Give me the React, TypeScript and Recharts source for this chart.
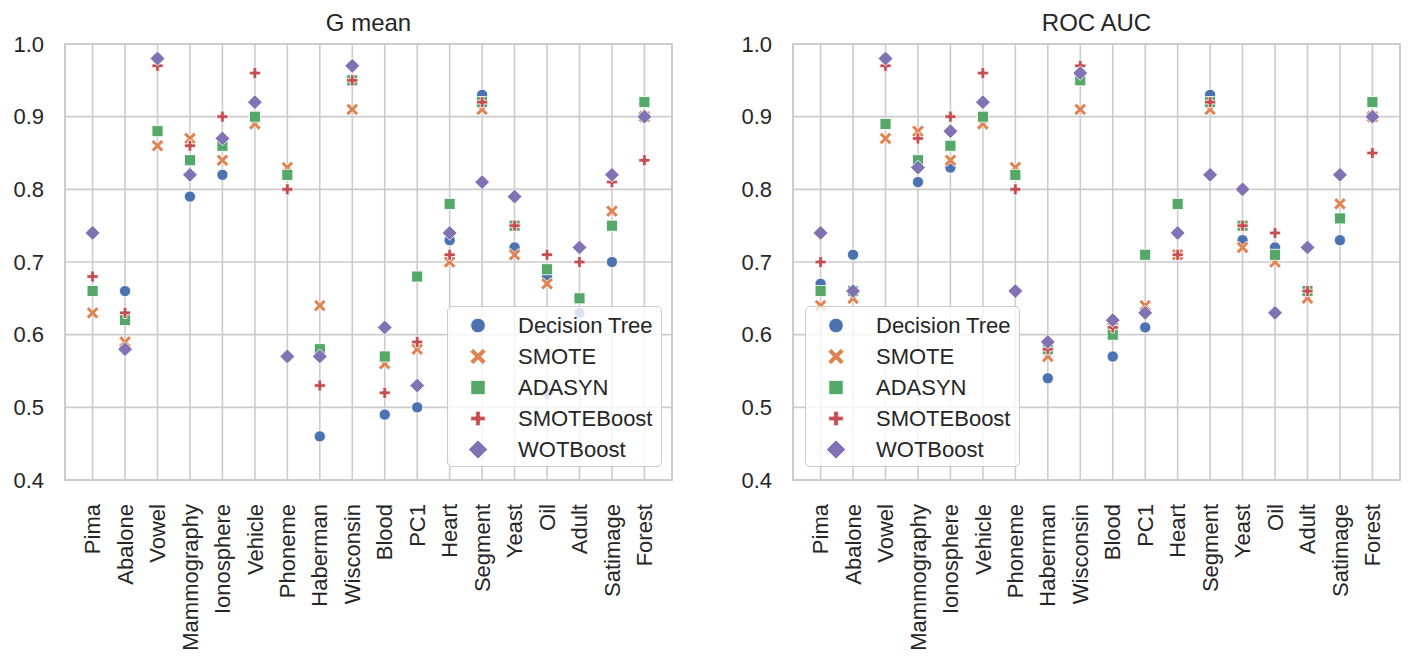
import React from 'react';
import {
  ScatterChart,
  Scatter,
  XAxis,
  YAxis,
  CartesianGrid,
  ReferenceArea,
  Legend,
} from 'recharts';

const datasets = [
  'Pima', 'Abalone', 'Vowel', 'Mammography', 'Ionosphere', 'Vehicle', 'Phoneme', 'Haberman', 'Wisconsin',
  'Blood', 'PC1', 'Heart', 'Segment', 'Yeast', 'Oil', 'Adult', 'Satimage', 'Forest',
];
const yTicks = [0.4, 0.5, 0.6, 0.7, 0.8, 0.9, 1.0];

// G mean
const gDecisionTree = [0.66, 0.66, 0.98, 0.79, 0.82, 0.9, 0.57, 0.46, 0.97, 0.49, 0.5, 0.73, 0.93, 0.72, 0.68, 0.63, 0.7, 0.9];
const gSmote = [0.63, 0.59, 0.86, 0.87, 0.84, 0.89, 0.83, 0.64, 0.91, 0.56, 0.58, 0.7, 0.91, 0.71, 0.67, 0.65, 0.77, 0.9];
const gAdasyn = [0.66, 0.62, 0.88, 0.84, 0.86, 0.9, 0.82, 0.58, 0.95, 0.57, 0.68, 0.78, 0.92, 0.75, 0.69, 0.65, 0.75, 0.92];
const gSmoteBoost = [0.68, 0.63, 0.97, 0.86, 0.9, 0.96, 0.8, 0.53, 0.95, 0.52, 0.59, 0.71, 0.92, 0.75, 0.71, 0.7, 0.81, 0.84];
const gWotBoost = [0.74, 0.58, 0.98, 0.82, 0.87, 0.92, 0.57, 0.57, 0.97, 0.61, 0.53, 0.74, 0.81, 0.79, 0.52, 0.72, 0.82, 0.9];

// ROC AUC
const rDecisionTree = [0.67, 0.71, 0.98, 0.81, 0.83, 0.9, 0.82, 0.54, 0.96, 0.57, 0.61, 0.74, 0.93, 0.73, 0.72, 0.66, 0.73, 0.9];
const rSmote = [0.64, 0.65, 0.87, 0.88, 0.84, 0.89, 0.83, 0.57, 0.91, 0.61, 0.64, 0.71, 0.91, 0.72, 0.7, 0.65, 0.78, 0.9];
const rAdasyn = [0.66, 0.66, 0.89, 0.84, 0.86, 0.9, 0.82, 0.58, 0.95, 0.6, 0.71, 0.78, 0.92, 0.75, 0.71, 0.66, 0.76, 0.92];
const rSmoteBoost = [0.7, 0.66, 0.97, 0.87, 0.9, 0.96, 0.8, 0.58, 0.97, 0.61, 0.63, 0.71, 0.92, 0.75, 0.74, 0.66, 0.82, 0.85];
const rWotBoost = [0.74, 0.66, 0.98, 0.83, 0.88, 0.92, 0.66, 0.59, 0.96, 0.62, 0.63, 0.74, 0.82, 0.8, 0.63, 0.72, 0.82, 0.9];

const FONT = '"Liberation Sans", Arial, sans-serif';
const TEXT = '#262626';
const GRID = '#cccccc';

type MarkerKind = 'circle' | 'x' | 'square' | 'plus' | 'diamond';

const methods: { name: string; color: string; marker: MarkerKind }[] = [
  { name: 'Decision Tree', color: '#4C72B0', marker: 'circle' },
  { name: 'SMOTE', color: '#DD8452', marker: 'x' },
  { name: 'ADASYN', color: '#55A868', marker: 'square' },
  { name: 'SMOTEBoost', color: '#C44E52', marker: 'plus' },
  { name: 'WOTBoost', color: '#8172B3', marker: 'diamond' },
];

const crossPoints = (a: number, t: number) =>
  [
    [-t, -a], [t, -a], [t, -t], [a, -t], [a, t], [t, t],
    [t, a], [-t, a], [-t, t], [-a, t], [-a, -t], [-t, -t],
  ];

function Marker({ kind, cx, cy, color, scale = 1 }: { kind: MarkerKind; cx: number; cy: number; color: string; scale?: number }) {
  const common = { fill: color, stroke: '#ffffff', strokeWidth: 0.8 };
  if (kind === 'circle') return <circle cx={cx} cy={cy} r={5.6 * scale} {...common} />;
  if (kind === 'square') {
    const h = 5.5 * scale;
    return <rect x={cx - h} y={cy - h} width={2 * h} height={2 * h} {...common} />;
  }
  if (kind === 'diamond') {
    const h = 7.4 * scale;
    return <polygon points={`${cx},${cy - h} ${cx + h},${cy} ${cx},${cy + h} ${cx - h},${cy}`} {...common} />;
  }
  if (kind === 'plus') {
    const pts = crossPoints(5.6 * scale, 1.8 * scale).map(([x, y]) => `${cx + x},${cy + y}`).join(' ');
    return <polygon points={pts} {...common} />;
  }
  const c = Math.SQRT1_2;
  const pts = crossPoints(7 * scale, 1.8 * scale)
    .map(([x, y]) => `${cx + (x - y) * c},${cy + (x + y) * c}`)
    .join(' ');
  return <polygon points={pts} {...common} />;
}

function XTick(props: any) {
  const { x, y, payload } = props;
  return (
    <text
      x={x}
      y={y + 22}
      transform={`rotate(-90, ${x}, ${y + 22})`}
      textAnchor="end"
      dy="0.35em"
      fill={TEXT}
      fontSize={22}
      fontFamily={FONT}
    >
      {datasets[payload.value]}
    </text>
  );
}

function LegendBox() {
  return (
    <div
      style={{
        boxSizing: 'border-box',
        width: 215,
        height: 161,
        background: 'rgba(255,255,255,0.8)',
        border: `1.5px solid ${GRID}`,
        borderRadius: 5,
        paddingTop: 3,
        fontFamily: FONT,
        fontSize: 22,
        color: TEXT,
      }}
    >
      {methods.map((m) => (
        <div key={m.name} style={{ height: 31, display: 'flex', alignItems: 'center' }}>
          <svg width={60} height={31} style={{ flex: 'none' }}>
            <Marker kind={m.marker} cx={30} cy={15.5} color={m.color} scale={1.3} />
          </svg>
          <span style={{ marginLeft: 10, lineHeight: '31px' }}>{m.name}</span>
        </div>
      ))}
    </div>
  );
}

function Panel({
  title,
  series,
  width,
  marginLeft,
  marginRight,
  legendLeft,
}: {
  title: string;
  series: number[][];
  width: number;
  marginLeft: number;
  marginRight: number;
  legendLeft: number;
}) {
  const yAxisWidth = marginLeft;
  const plotLeft = yAxisWidth;
  const plotRight = width - marginRight;
  return (
    <div style={{ position: 'relative', width, height: 659 }}>
      <div
        style={{
          position: 'absolute',
          left: plotLeft,
          width: plotRight - plotLeft,
          top: 11,
          textAlign: 'center',
          fontFamily: FONT,
          fontSize: 24,
          lineHeight: '24px',
          color: TEXT,
        }}
      >
        {title}
      </div>
      <ScatterChart width={width} height={659} margin={{ top: 44, right: marginRight, bottom: 0, left: 0 }}>
        <CartesianGrid stroke={GRID} strokeWidth={1.6} />
        <XAxis
          type="number"
          dataKey="x"
          domain={[-0.85, 17.85]}
          ticks={datasets.map((_, i) => i)}
          interval={0}
          allowDataOverflow
          height={179}
          tickLine={false}
          axisLine={false}
          tickSize={0}
          tick={<XTick />}
        />
        <YAxis
          type="number"
          dataKey="y"
          domain={[0.4, 1.0]}
          ticks={yTicks}
          allowDataOverflow
          width={yAxisWidth}
          tickLine={false}
          axisLine={false}
          tickSize={0}
          tickMargin={21}
          tickFormatter={(v: number) => v.toFixed(1)}
          tick={{ fill: TEXT, fontSize: 22, fontFamily: FONT }}
        />
        <ReferenceArea x1={-0.85} x2={17.85} y1={0.4} y2={1.0} fill="none" stroke={GRID} strokeWidth={2} />
        {methods.map((m, k) => (
          <Scatter
            key={m.name}
            name={m.name}
            data={series[k].map((v, i) => ({ x: i, y: v }))}
            fill={m.color}
            isAnimationActive={false}
            shape={(p: any) => <Marker kind={m.marker} cx={p.cx} cy={p.cy} color={m.color} />}
          />
        ))}
        <Legend
          layout="horizontal"
          verticalAlign="middle"
          align="center"
          content={() => <LegendBox />}
          wrapperStyle={{ left: legendLeft, top: 306, width: 215, height: 161 }}
        />
      </ScatterChart>
    </div>
  );
}

export default function App() {
  return (
    <div style={{ position: 'absolute', left: 0, top: 0, width: 1423, height: 659, background: '#ffffff', display: 'flex' }}>
      <Panel
        title="G mean"
        series={[gDecisionTree, gSmote, gAdasyn, gSmoteBoost, gWotBoost]}
        width={711}
        marginLeft={65}
        marginRight={39}
        legendLeft={447}
      />
      <Panel
        title="ROC AUC"
        series={[rDecisionTree, rSmote, rAdasyn, rSmoteBoost, rWotBoost]}
        width={712}
        marginLeft={82}
        marginRight={23}
        legendLeft={94}
      />
    </div>
  );
}
